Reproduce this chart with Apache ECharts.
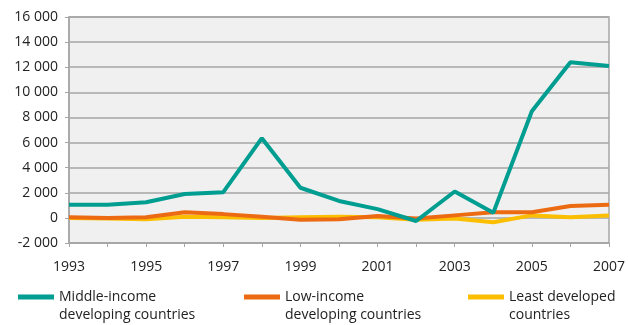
<!DOCTYPE html>
<html><head><meta charset="utf-8">
<script src="https://cdn.jsdelivr.net/npm/echarts@6/dist/echarts.min.js"></script>
<style>html,body{margin:0;padding:0;background:#fff}#c{width:628px;height:325px}</style>
</head><body><div id="c"></div>
<script>
const years = ['1993','1994','1995','1996','1997','1998','1999','2000','2001','2002','2003','2004','2005','2006','2007'];
const middleIncome = [1050, 1050, 1250, 1900, 2050, 6350, 2400, 1350, 700, -250, 2100, 400, 8500, 12400, 12100];
const lowIncome = [50, 0, 50, 450, 300, 100, -150, -100, 150, -50, 200, 450, 450, 950, 1050];
const leastDeveloped = [0, -50, -100, 100, 50, 0, 50, 100, 50, -150, -50, -350, 200, 50, 200];
const seriesNames = ['Middle-income\ndeveloping countries', 'Low-income\ndeveloping countries', 'Least developed\ncountries'];
const colors = ['#009d91', '#ec6a12', '#fcbe00'];
const FONT = 'Open Sans';
const chart = echarts.init(document.getElementById('c'));
const fmt = v => { const s = Math.abs(v).toString(); const t = s.length > 3 ? s.slice(0, -3) + ' ' + s.slice(-3) : s; return (v < 0 ? '-' : '') + t; };
const legendBase = {
  top: 270, padding: 0, itemWidth: 36, itemHeight: 5, itemGap: 9, icon: 'rect',
  formatter: name => ' \n' + name,
  textStyle: { fontFamily: FONT, fontSize: 14, color: '#222', lineHeight: 18 }
};
chart.setOption({
  animation: false,
  color: colors,
  legend: [
    Object.assign({ left: 18, data: [seriesNames[0]] }, legendBase),
    Object.assign({ left: 244, data: [seriesNames[1]] }, legendBase),
    Object.assign({ left: 468, data: [seriesNames[2]] }, legendBase)
  ],
  grid: { left: 69, right: 16, top: 17, bottom: 82, show: true, backgroundColor: '#eff0ef', borderColor: '#a6a6a6', borderWidth: 1.5 },
  xAxis: {
    type: 'category', data: years, boundaryGap: false,
    axisLine: { onZero: false, lineStyle: { color: '#a6a6a6', width: 1.5 } },
    axisTick: { show: true, interval: 0, length: 4, lineStyle: { color: '#a6a6a6' } },
    axisLabel: { interval: 1, margin: 17, fontFamily: FONT, fontSize: 14, color: '#222' },
    splitLine: { show: false }
  },
  yAxis: {
    type: 'value', min: -2000, max: 16000, interval: 2000,
    axisLine: { show: true, lineStyle: { color: '#a6a6a6', width: 1.5 } },
    axisTick: { show: true, length: 4, lineStyle: { color: '#a6a6a6' } },
    axisLabel: { margin: 11, fontFamily: FONT, fontSize: 14, color: '#222', formatter: fmt },
    splitLine: { show: true, lineStyle: { color: '#a6a6a6', width: 1.5 } }
  },
  series: [
    { name: seriesNames[2], type: 'line', data: leastDeveloped, symbol: 'none', z: 2 },
    { name: seriesNames[1], type: 'line', data: lowIncome, symbol: 'none', z: 3 },
    { name: seriesNames[0], type: 'line', data: middleIncome, symbol: 'none', z: 4 }
  ].map(s => Object.assign(s, { itemStyle: { color: colors[seriesNames.indexOf(s.name)] }, lineStyle: { width: 4, color: colors[seriesNames.indexOf(s.name)] } }))
});
</script></body></html>
